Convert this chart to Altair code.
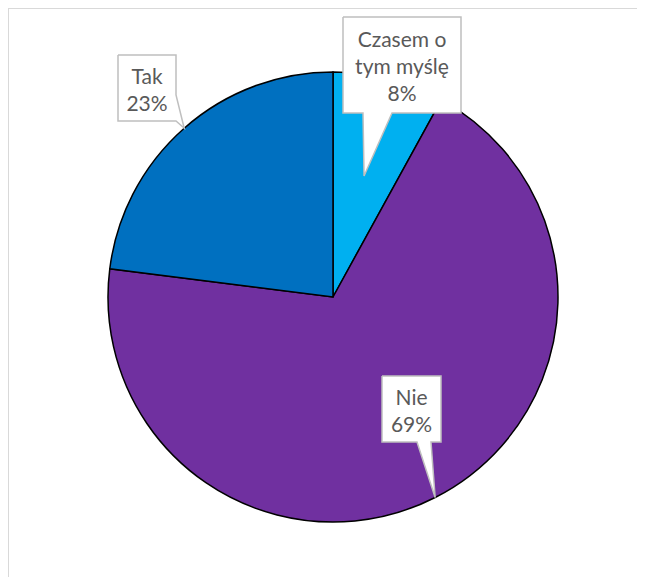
import math
import altair as alt
import pandas as pd

# ---- data ----
categories = ["Czasem o tym myślę", "Nie", "Tak"]
label_names = ["Czasem o\ntym myślę", "Nie", "Tak"]
values = [8, 69, 23]
colors = ["#00B0F0", "#7030A0", "#0070C0"]

# ---- layout (view pixel coordinates; page = view + 8) ----
W, H = 629, 569
CX, CY, R = 325, 289, 225
LINE_H = 27
tip_radius = [0.555, 1.0, 1.0]
# callout boxes: left, right, top, bottom (page px) and pointer base
boxes = [
    dict(l=343, r=461, t=17, b=113, kind="bottom", b1=363, b2=392),
    dict(l=382, r=441, t=376, b=442, kind="bottom", b1=417, b2=431),
    dict(l=118, r=176, t=55, b=121, kind="corner", b1=95, b2=176),
]

df = pd.DataFrame({"category": categories, "value": values, "order": range(len(values))})

# tips at the slice mid-angles
total = sum(values)
cum = 0
tips = []
for v, rf in zip(values, tip_radius):
    mid = (cum + v / 2) / total * 2 * math.pi
    cum += v
    tips.append((CX + rf * R * math.sin(mid), CY - rf * R * math.cos(mid)))

poly_rows = []
text_rows = []
for i, (bx, tip) in enumerate(zip(boxes, tips)):
    l, r, t, b = (bx["l"] - 8, bx["r"] - 8, bx["t"] - 8, bx["b"] - 8)
    if bx["kind"] == "bottom":
        pts = [(l, t), (r, t), (r, b), (bx["b2"] - 8, b), tip, (bx["b1"] - 8, b), (l, b), (l, t)]
    else:
        pts = [(l, t), (r, t), (r, bx["b1"] - 8), tip, (r, b), (l, b), (l, t)]
    for k, (px, py) in enumerate(pts):
        poly_rows.append({"id": i, "k": k, "px": px, "py": py})
    label = f"{label_names[i]}\n{values[i]}%"
    n_lines = label.count("\n") + 1
    text_rows.append({
        "label": label,
        "tx": (l + r) / 2,
        "ty": (t + b) / 2 + 3 - (n_lines - 1) * LINE_H / 2,
    })

poly = pd.DataFrame(poly_rows)
texts = pd.DataFrame(text_rows)

pie = alt.Chart(df).mark_arc(outerRadius=R, stroke="black", strokeWidth=1.5).encode(
    theta=alt.Theta("value:Q", stack=True),
    color=alt.Color("category:N", scale=alt.Scale(domain=categories, range=colors), legend=None),
    order=alt.Order("order:Q"),
    x=alt.value(CX),
    y=alt.value(CY),
)

callouts = alt.Chart(poly).mark_line(
    fill="white", stroke="#bfbfbf", strokeWidth=1.5, interpolate="linear", strokeJoin="miter"
).encode(
    x=alt.X("px:Q", scale=None),
    y=alt.Y("py:Q", scale=None),
    detail="id:N",
    order="k:Q",
)

labels = alt.Chart(texts).mark_text(
    font="Lato", fontSize=21, color="#595959", lineBreak="\n", lineHeight=LINE_H,
    baseline="middle", align="center",
).encode(
    x=alt.X("tx:Q", scale=None),
    y=alt.Y("ty:Q", scale=None),
    text="label:N",
)

frame_top = alt.Chart(df).mark_rule(color="#d9d9d9", strokeWidth=2).encode(
    x=alt.value(0), x2=alt.value(W), y=alt.value(0)
)
frame_left = alt.Chart(df).mark_rule(color="#d9d9d9", strokeWidth=2).encode(
    x=alt.value(0), y=alt.value(0), y2=alt.value(H)
)

chart = alt.layer(frame_top, frame_left, pie, callouts, labels).properties(
    width=W, height=H, padding=0,
    autosize=alt.AutoSizeParams(type="none"),
    background="white",
).configure_view(stroke=None)

chart.save("out.html", embed_options={"renderer": "svg", "actions": False})
